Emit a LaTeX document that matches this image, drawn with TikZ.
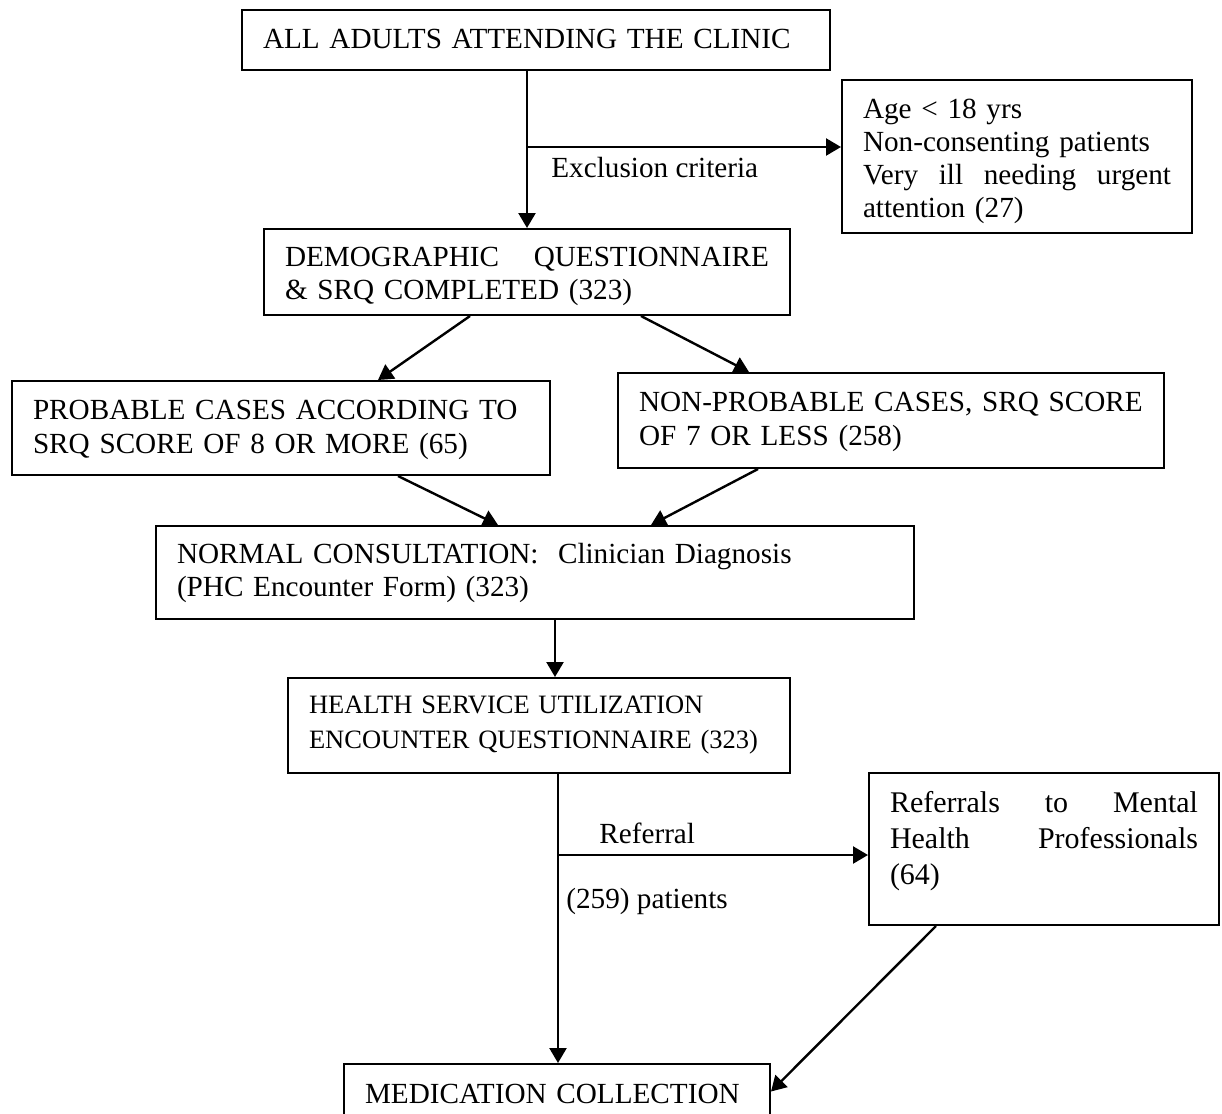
\documentclass[tikz,border=0pt]{standalone}
\usepackage{fontspec}
\setmainfont{Liberation Serif}
\usetikzlibrary{arrows.meta}
\usetikzlibrary{calc}

\begin{document}
\begin{tikzpicture}
		[x=0.5pt,y=-0.5pt,
		box/.style={rectangle,draw=black,line width=1pt,anchor=north west,align=left,inner xsep=10.5pt,inner ysep=0pt,font=\fontsize{14.6}{16.5}\selectfont},
		arr/.style={line width=1.2pt,-{Triangle[length=7.5pt,width=8.5pt]}},
		lbl/.style={anchor=base west,inner sep=0pt,font=\fontsize{14.6}{16.5}\selectfont},]
		\useasboundingbox (0,0) rectangle (1222,1114);
		\clip (0,0) rectangle (1222,1114);
		
		\node[box,text width=273pt,text height=19pt,text depth=11pt] (top) at (241,9) {ALL ADULTS ATTENDING THE CLINIC};
		\node[box,text width=154pt,text height=19pt,text depth=57.5pt,font=\fontsize{14.6}{16.6}\selectfont] (excl) at (841,79)
			{Age < 18 yrs\\Non-consenting patients\\Very\hfill ill\hfill needing\hfill urgent\\attention (27)};
		\node[box,text width=242pt,text height=18.5pt,text depth=24.5pt] (demog) at (263,228)
			{DEMOGRAPHIC\hfill QUESTIONNAIRE\\\& SRQ COMPLETED (323)};
		\node[box,text width=248pt,text height=19pt,text depth=28pt,font=\fontsize{14.6}{17}\selectfont] (prob) at (11,380)
			{PROBABLE CASES ACCORDING TO\\SRQ SCORE OF 8 OR MORE (65)};
		\node[box,text width=252pt,text height=19pt,text depth=28.5pt,font=\fontsize{14.6}{17}\selectfont] (nonprob) at (617,372)
			{NON-PROBABLE CASES, SRQ SCORE\\OF 7 OR LESS (258)};
		\node[box,text width=358pt,text height=18.5pt,text depth=28pt] (normal) at (155,525)
			{NORMAL CONSULTATION:~ Clinician Diagnosis\\(PHC Encounter Form) (323)};
		\node[box,text width=230pt,text height=17.5pt,text depth=30pt,font=\fontsize{13.25}{17.5}\selectfont] (health) at (287,677)
			{HEALTH SERVICE UTILIZATION\\ENCOUNTER QUESTIONNAIRE (323)};
		\node[box,text width=154pt,text height=19.5pt,text depth=56.5pt,font=\fontsize{15}{18}\selectfont] (refer) at (868,772)
			{Referrals\hfill to\hfill Mental\\Health\hfill Professionals\\(64)};
		\node[box,text width=192pt,text height=19.5pt,text depth=8pt] (med) at (343,1063) {MEDICATION COLLECTION};
		
		% branch points
		\coordinate (xsplit) at (527,147);
		\coordinate (rsplit) at (558,855);
		
		\draw[arr] (xsplit |- top.south) -- (xsplit |- demog.north);
		\draw[arr] (xsplit) -- (xsplit -| excl.west);
		\node[lbl] (excllbl) at (551,177) {Exclusion criteria};
		
		\draw[arr] ($(demog.south)+(-57,0)$) -- ($(prob.north)+(97,0)$);
		\draw[arr] ($(demog.south)+(114,0)$) -- ($(nonprob.north)+(-142,0)$);
		\draw[arr] ($(prob.south)+(117,0)$) -- ($(normal.north)+(-37,0)$);
		\draw[arr] ($(nonprob.south)+(-133,0)$) -- ($(normal.north)+(116,0)$);
		\draw[arr] ($(normal.south)+(20,0)$) -- ($(health.north)+(16,0)$);
		
		\draw[arr] (rsplit |- health.south) -- (rsplit |- med.north);
		\draw[arr] (rsplit) -- (rsplit -| refer.west);
		\node[lbl] (reflbl) at (599,843) {Referral};
		\node[lbl] (patlbl) at (566,908) {(259) patients};
		
		\draw[arr] ($(refer.south)+(-108,0)$) -- (med.east);
		
	\end{tikzpicture}
\end{document}
